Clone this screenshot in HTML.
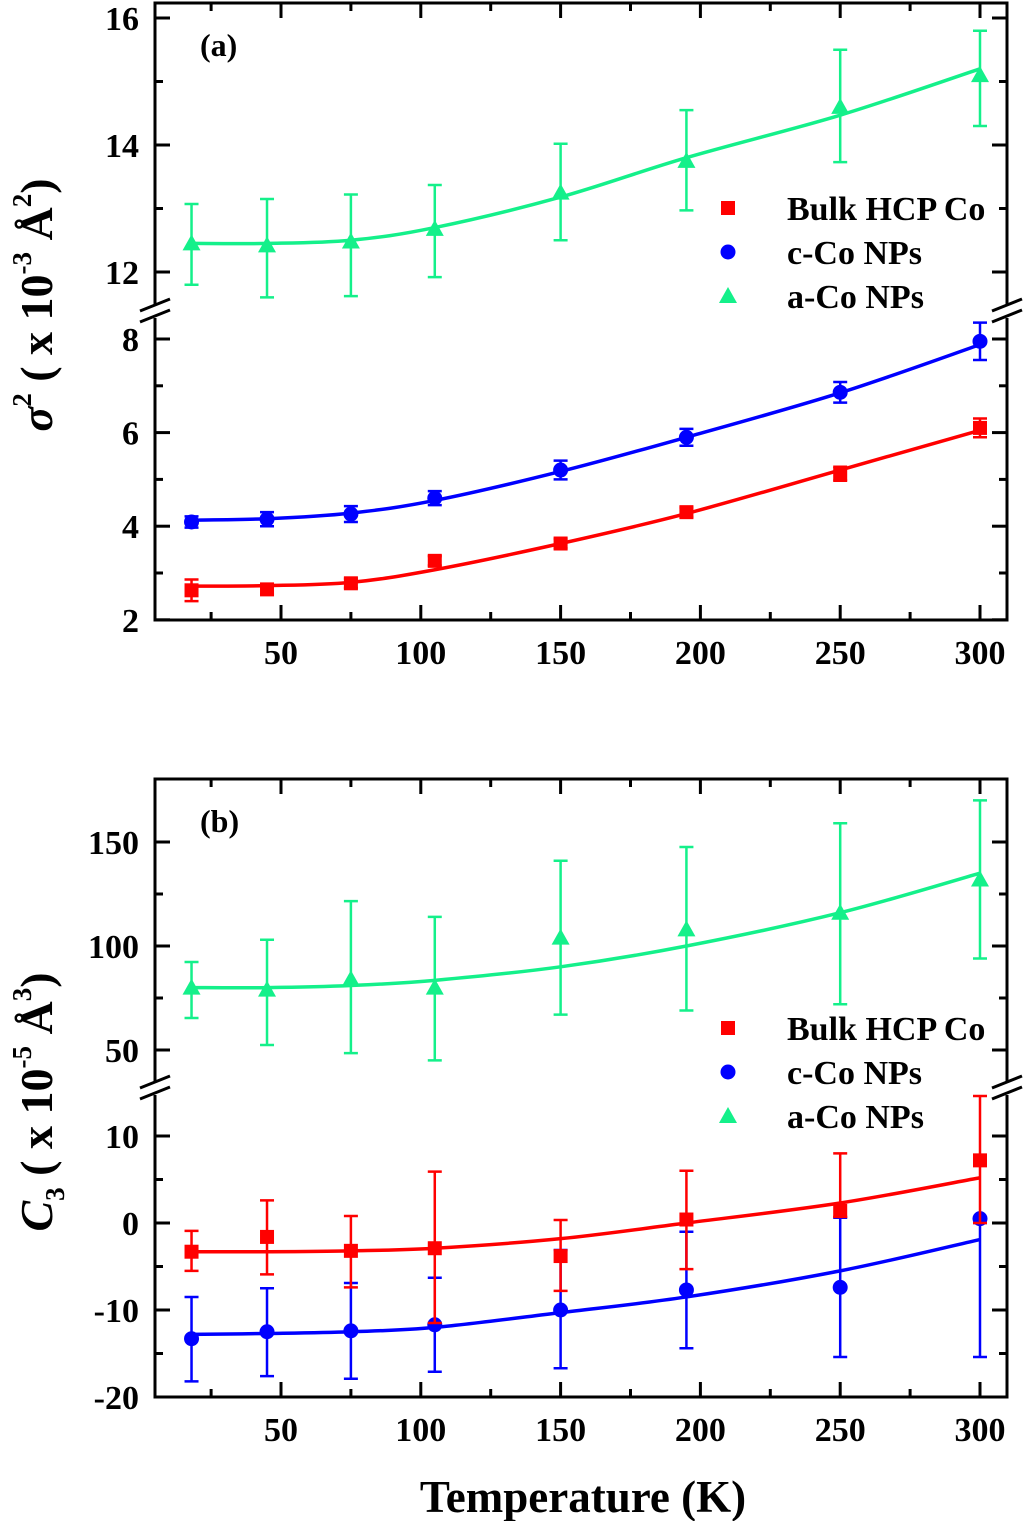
<!DOCTYPE html>
<html><head><meta charset="utf-8"><style>
html,body{margin:0;padding:0;background:#fff}
svg{display:block;font-family:"Liberation Serif",serif;font-weight:bold}
</style></head><body>
<svg id="chart" width="1024" height="1521" viewBox="0 0 1024 1521" xmlns="http://www.w3.org/2000/svg">
<g id="root"></g>
<text transform="translate(52,305) rotate(-90)" text-anchor="middle" font-size="46" font-family="Liberation Serif, serif" font-weight="bold"><tspan font-style="italic">σ</tspan><tspan font-size="27" dy="-21">2</tspan><tspan dy="21"> ( x 10</tspan><tspan font-size="27" dy="-21">-3</tspan><tspan dy="21"> Å</tspan><tspan font-size="27" dy="-21">2</tspan><tspan dy="21">)</tspan></text>
<text transform="translate(52,1102) rotate(-90)" text-anchor="middle" font-size="46" font-family="Liberation Serif, serif" font-weight="bold"><tspan font-style="italic">C</tspan><tspan font-size="27" dy="12">3</tspan><tspan dy="-12"> ( x 10</tspan><tspan font-size="27" dy="-21">-5</tspan><tspan dy="21"> Å</tspan><tspan font-size="27" dy="-21">3</tspan><tspan dy="21">)</tspan></text>
<text x="583" y="1512" text-anchor="middle" font-size="45" font-family="Liberation Serif, serif" font-weight="bold">Temperature (K)</text>
</svg>
<script>
// ---- data ----
const temps = [18, 45, 75, 105, 150, 195, 250, 300];
const xTicks = [50, 100, 150, 200, 250, 300];
const seriesNames = ["Bulk HCP Co", "c-Co NPs", "a-Co NPs"];
// panel a (sigma^2, x10^-3 A^2)
const aRed = [2.63, 2.65, 2.78, 3.26, 3.63, 4.3, 5.12, 6.1];
const aRedLo = [2.4, 2.55, 2.68, 3.16, 3.53, 4.2, 4.97, 5.9];
const aRedHi = [2.86, 2.75, 2.88, 3.36, 3.73, 4.4, 5.27, 6.3];
const aBlue = [4.09, 4.15, 4.26, 4.6, 5.2, 5.9, 6.86, 7.95];
const aBlueLo = [3.97, 4.0, 4.09, 4.45, 5.0, 5.72, 6.64, 7.55];
const aBlueHi = [4.21, 4.3, 4.43, 4.75, 5.4, 6.08, 7.08, 8.35];
const aGreen = [12.45, 12.42, 12.48, 12.68, 13.25, 13.75, 14.6, 15.1];
const aGreenLo = [11.8, 11.6, 11.62, 11.92, 12.5, 12.97, 13.73, 14.3];
const aGreenHi = [13.07, 13.15, 13.22, 13.37, 14.02, 14.55, 15.5, 15.8];
const aRedFit = [2.72, 2.73, 2.8, 3.07, 3.63, 4.27, 5.2, 6.05];
const aBlueFit = [4.13, 4.16, 4.28, 4.55, 5.17, 5.9, 6.85, 7.88];
const aGreenFit = [12.45, 12.45, 12.5, 12.7, 13.18, 13.8, 14.47, 15.2];
const aUpperTicks = [12, 14, 16];
const aLowerTicks = [2, 4, 6, 8];
// panel b (C3, x10^-5 A^3)
const bRed = [-3.3, -1.6, -3.2, -2.9, -3.8, 0.4, 1.4, 7.2];
const bRedLo = [-5.5, -5.9, -7.4, -11.5, -7.8, -5.3, 0.7, 0];
const bRedHi = [-0.9, 2.6, 0.8, 5.9, 0.35, 6, 8, 14.6];
const bBlue = [-13.3, -12.5, -12.4, -11.7, -10, -7.7, -7.4, 0.5];
const bBlueLo = [-18.2, -17.6, -17.9, -17.1, -16.7, -14.4, -15.4, -15.4];
const bBlueHi = [-8.5, -7.5, -6.9, -6.3, -3.1, -1, 0.6, 0];
const bGreen = [80, 79, 84, 80, 104, 108, 116, 132];
const bGreenLo = [65.4, 52.4, 48.5, 45, 67, 69, 72, 94];
const bGreenHi = [92.3, 103, 121.6, 114, 141, 147.6, 159, 170];
const bRedFit = [-3.3, -3.3, -3.2, -2.9, -1.8, 0, 2.3, 5.2];
const bBlueFit = [-12.8, -12.7, -12.5, -12, -10.3, -8.5, -5.5, -1.9];
const bGreenFit = [80, 80, 81, 83.5, 90, 100, 116, 135];
const bUpperTicks = [50, 100, 150];
const bLowerTicks = [-20, -10, 0, 10];

const NS = "http://www.w3.org/2000/svg";
const root = document.getElementById('root');
const RED = "#ff0000", BLUE = "#0000ff", GREEN = "#14f08a";
function mk(tag, attrs, parent) {
  const e = document.createElementNS(NS, tag);
  for (const k in attrs) e.setAttribute(k, attrs[k]);
  (parent || root).appendChild(e);
  return e;
}
const X0 = 155, X1 = 1007;
const xs = t => 141.2 + t * 2.796;

function splinePath(px, py) {
  let d = "M" + px[0] + "," + py[0];
  for (let i = 0; i < px.length - 1; i++) {
    const x0 = px[Math.max(i - 1, 0)], y0 = py[Math.max(i - 1, 0)];
    const x1 = px[i], y1 = py[i], x2 = px[i + 1], y2 = py[i + 1];
    const x3 = px[Math.min(i + 2, px.length - 1)], y3 = py[Math.min(i + 2, px.length - 1)];
    d += " C" + (x1 + (x2 - x0) / 6) + "," + (y1 + (y2 - y0) / 6) + " " + (x2 - (x3 - x1) / 6) + "," + (y2 - (y3 - y1) / 6) + " " + x2 + "," + y2;
  }
  return d;
}

function panel(cfg) {
  const g = mk('g', {});
  
  
  const {top, bottom, brk, ysU, ysL, uMinor, lMinor} = cfg;
  const ys = v => v > cfg.split ? ysU(v) : ysL(v);
  const fr = mk('path', {d: `M${X0},${brk - 6} V${top} H${X1} V${brk - 6} M${X0},${brk + 8} V${bottom} H${X1} V${brk + 8}`, fill: 'none', stroke: '#000', 'stroke-width': 3}, g);
  
  
  [X0, X1].forEach(bx => {
    const b = mk('path', {d: `M${bx - 15},${brk + 1} L${bx + 15},${brk - 11} M${bx - 15},${brk + 12} L${bx + 15},${brk}`, stroke: '#000', 'stroke-width': 3, fill: 'none'}, g);
    
    
  });
  for (let t = 25; t <= 300; t += 25) {
    const L = t % 50 === 0 ? 15 : 8;
    mk('line', {x1: xs(t), x2: xs(t), y1: bottom, y2: bottom - L, stroke: '#000', 'stroke-width': 3}, g);
    mk('line', {x1: xs(t), x2: xs(t), y1: top, y2: top + L, stroke: '#000', 'stroke-width': 3}, g);
  }
  xTicks.forEach(t => {
    const tx = mk('text', {x: xs(t), y: bottom + 44, 'font-size': 34, 'text-anchor': 'middle'}, g);
    tx.textContent = t;
    
    
  });
  const yt = (v, sc, major) => {
    const y = sc(v), L = major ? 15 : 8;
    mk('line', {x1: X0, x2: X0 + L, y1: y, y2: y, stroke: '#000', 'stroke-width': 3}, g);
    mk('line', {x1: X1, x2: X1 - L, y1: y, y2: y, stroke: '#000', 'stroke-width': 3}, g);
  };
  cfg.uTicks.forEach(v => yt(v, ysU, true)); uMinor.forEach(v => yt(v, ysU, false));
  cfg.lTicks.forEach(v => yt(v, ysL, true)); lMinor.forEach(v => yt(v, ysL, false));
  cfg.uTicks.concat(cfg.lTicks).forEach(v => {
    const tx = mk('text', {x: 139, y: ys(v) + 12, 'font-size': 34, 'text-anchor': 'end'}, g);
    tx.textContent = v;
    
    
  });
  const series = [
    [cfg.green, cfg.greenLo, cfg.greenHi, cfg.greenFit, GREEN, 'tri', 'a-co-nps'],
    [cfg.blue, cfg.blueLo, cfg.blueHi, cfg.blueFit, BLUE, 'circ', 'c-co-nps'],
    [cfg.red, cfg.redLo, cfg.redHi, cfg.redFit, RED, 'sq', 'bulk-hcp-co'],
  ];
  series.forEach(([vals, lo, hi, fit, col, shape, nm]) => {
    const sg = mk('g', {}, g);
    
    
    const fp = mk('path', {d: splinePath(temps.map(xs), fit.map(ys)), fill: 'none', stroke: col, 'stroke-width': 3.5}, sg);
    
    
    temps.forEach((t, i) => {
      const x = xs(t), y = ys(vals[i]), y1 = ys(lo[i]), y2 = ys(hi[i]);
      const eb = mk('path', {d: `M${x},${y1} V${y2} M${x - 7},${y1} H${x + 7} M${x - 7},${y2} H${x + 7}`, stroke: col, 'stroke-width': 2.5, fill: 'none'}, sg);
      
      
      let m;
      if (shape === 'sq') m = mk('rect', {x: x - 7, y: y - 7, width: 14, height: 14, fill: col}, sg);
      else if (shape === 'circ') m = mk('circle', {cx: x, cy: y, r: 7.5, fill: col}, sg);
      else m = mk('path', {d: `M${x},${y - 9} L${x + 9},${y + 7} L${x - 9},${y + 7} Z`, fill: col}, sg);
      
      
    });
  });
  const lg = mk('g', {}, g);
  
  
  const cols = [RED, BLUE, GREEN], shapes = ['sq', 'circ', 'tri'];
  seriesNames.forEach((n, i) => {
    const y = cfg.legY + i * 44, x = 728;
    let m;
    if (shapes[i] === 'sq') m = mk('rect', {x: x - 7, y: y - 7, width: 14, height: 14, fill: cols[i]}, lg);
    else if (shapes[i] === 'circ') m = mk('circle', {cx: x, cy: y, r: 7.5, fill: cols[i]}, lg);
    else m = mk('path', {d: `M${x},${y - 9} L${x + 9},${y + 7} L${x - 9},${y + 7} Z`, fill: cols[i]}, lg);
    
    
    const tx = mk('text', {x: 787, y: y + 12, 'font-size': 34}, lg);
    tx.textContent = n;
    
    
  });
  const pl = mk('text', {x: 200, y: top + 53, 'font-size': 32}, g);
  pl.textContent = cfg.label;
  
  
}

panel({
  name: 'panel-a', label: '(a)', top: 3, bottom: 620, brk: 310, split: 10,
  ysU: v => 272 - (v - 12) * 63.5, ysL: v => 339 + (8 - v) * 46.8,
  uTicks: aUpperTicks, lTicks: aLowerTicks, uMinor: [13, 15], lMinor: [3, 5, 7],
  red: aRed, redLo: aRedLo, redHi: aRedHi, redFit: aRedFit,
  blue: aBlue, blueLo: aBlueLo, blueHi: aBlueHi, blueFit: aBlueFit,
  green: aGreen, greenLo: aGreenLo, greenHi: aGreenHi, greenFit: aGreenFit,
  legY: 208
});
panel({
  name: 'panel-b', label: '(b)', top: 779, bottom: 1397, brk: 1087, split: 30,
  ysU: v => 946 - (v - 100) * 2.08, ysL: v => 1223 - v * 8.7,
  uTicks: bUpperTicks, lTicks: bLowerTicks, uMinor: [75, 125], lMinor: [-15, -5, 5],
  red: bRed, redLo: bRedLo, redHi: bRedHi, redFit: bRedFit,
  blue: bBlue, blueLo: bBlueLo, blueHi: bBlueHi, blueFit: bBlueFit,
  green: bGreen, greenLo: bGreenLo, greenHi: bGreenHi, greenFit: bGreenFit,
  legY: 1028
});
</script>
</body></html>
